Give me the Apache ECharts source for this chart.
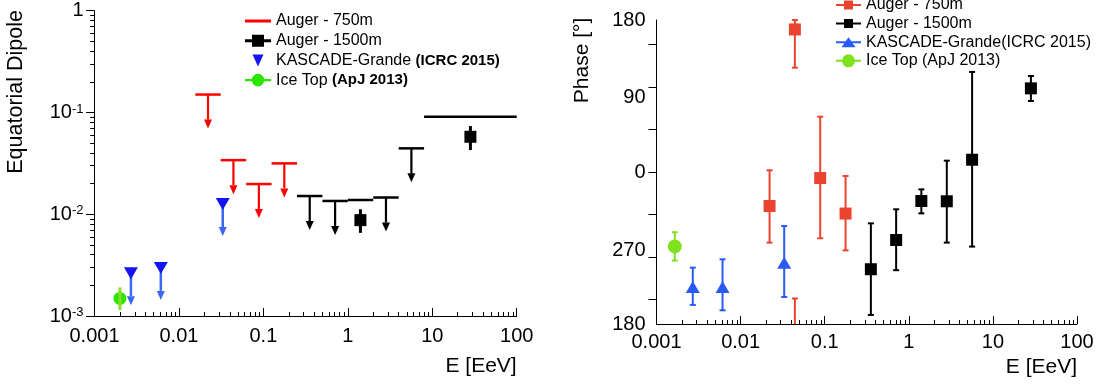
<!DOCTYPE html>
<html>
<head>
<meta charset="utf-8">
<script src="https://cdn.jsdelivr.net/npm/echarts@6/dist/echarts.min.js"></script>
<style>html,body{margin:0;padding:0;background:#fff}#chart{width:1102px;height:385px}</style>
</head>
<body>
<div id="chart"></div>
<script>
// ================= DATA =================
// Axis tick labels
const energyTickLabels = ['0.001', '0.01', '0.1', '1', '10', '100'];
const dipoleTickExponents = [-3, -2, -1, 0];
const phaseLabelValues = [-161, -90, 0, 90, 161];
const phaseLabelTexts = ['180', '270', '0', '90', '180'];
const phaseTickValues = [-135, -90, -45, 0, 45, 90, 135];
const minorMantissas = [2, 3, 4, 5, 6, 7, 8, 9];

// Auger 750 m (energy bins in EeV)
const e750 = [0.0221, 0.0442, 0.0884, 0.177];
const bin750Lo = [0.015625, 0.03125, 0.0625, 0.125];
const bin750Hi = [0.03125, 0.0625, 0.125, 0.25];
const dipUL750 = [0.150, 0.034, 0.0198, 0.0316];
const phase750 = [-36, 151, -6.4, -44];
const phase750Lo = [-74.8, 110.5, -70.2, -83];
const phase750Hi = [1.8, 226, 58.6, -4.2];

// Auger 1500 m
const e1500 = [0.354, 0.707, 1.41, 2.83, 5.66, 28.3];
const bin1500Lo = [0.25, 0.5, 1, 2, 4, 8];
const bin1500Hi = [0.5, 1, 2, 4, 8, 100];
const dipUL1500 = [0.0151, 0.0135, 0.0138, 0.0146, 0.0444, 0.0908];
const dipAmp1500 = [null, null, 0.00875, null, null, 0.0577];
const dipAmp1500Lo = [null, null, 0.00656, null, null, 0.0427];
const dipAmp1500Hi = [null, null, 0.0112, null, null, 0.0735];
const phase1500 = [-103, -72, -30.7, -31, 13, 88.6];
const phase1500Lo = [-151.4, -104, -43.8, -74.8, -79, 75.2];
const phase1500Hi = [-54.4, -39.5, -18.4, 12, 106, 101.7];

// KASCADE-Grande
const eKG = [0.0027, 0.0061, 0.033];
const dipULKG = [0.00263, 0.00297, 0.0126];
const phaseKG = [-121.8, -121.8, -96];
const phaseKGLo = [-140.8, -146.5, -132.4];
const phaseKGHi = [-101.3, -92.5, -57.2];

// IceTop
const eITDip = [0.0020];
const dipIT = [0.00149];
const dipITLo = [0.00114];
const dipITHi = [0.00191];
const eITPhase = [0.00165];
const phaseIT = [-78.8];
const phaseITLo = [-93.8];
const phaseITHi = [-63.8];

// Legend texts
const legendTexts = {
  L750: 'Auger - 750m',
  L1500: 'Auger - 1500m',
  LKG: 'KASCADE-Grande {b|(ICRC 2015)}',
  LIT: 'Ice Top {b|(ApJ 2013)}',
  R750: 'Auger - 750m',
  R1500: 'Auger - 1500m',
  RKG: 'KASCADE-Grande(ICRC 2015)',
  RIT: 'Ice Top (ApJ 2013)'
};

// ================= STYLE =================
const FONT = "'Liberation Sans', Arial, Helvetica, sans-serif";
const PHASE_MIN = -161, PHASE_MAX = 161;
const C = {
  redL: '#ff0000', black: '#000000', blueTriL: '#1414f0', blueArrL: '#3b68f2',
  greenCircL: '#2ce600', greenLineL: '#8bdc2c',
  redR: '#ea4430', blueR: '#2a5af5', greenR: '#80e11f'
};

const minorLogX = [];
for (let n = -3; n <= 1; n++) minorMantissas.forEach(m => minorLogX.push(Math.log10(m * Math.pow(10, n))));
const minorLogY = [];
for (let n = -3; n <= -1; n++) minorMantissas.forEach(m => minorLogY.push(Math.log10(m * Math.pow(10, n))));

// ================= RENDERERS =================
const ARROW_LEN = 34, HEAD_H = 9, HEAD_W = 4;
function arrowDown(p, len, color, lw) {
  return [
    {type: 'line', shape: {x1: p[0], y1: p[1], x2: p[0], y2: p[1] + len - HEAD_H}, style: {stroke: color, lineWidth: lw}},
    {type: 'polygon', shape: {points: [[p[0] - HEAD_W, p[1] + len - HEAD_H], [p[0] + HEAD_W, p[1] + len - HEAD_H], [p[0], p[1] + len]]}, style: {fill: color}}
  ];
}
function ulRender(color) {
  return function (params, api) {
    const e = api.value(0), lo = api.value(1), hi = api.value(2), ul = api.value(3), arrow = api.value(4);
    const pl = api.coord([lo, ul]), pr = api.coord([hi, ul]), pc = api.coord([e, ul]);
    let kids = [{type: 'line', shape: {x1: pl[0], y1: pl[1], x2: pr[0], y2: pr[1]}, style: {stroke: color, lineWidth: 2.5}}];
    if (arrow) kids = kids.concat(arrowDown(pc, ARROW_LEN, color, 2.2));
    return {type: 'group', children: kids};
  };
}
function kgRender(params, api) {
  const p = api.coord([api.value(0), api.value(1)]);
  const kids = arrowDown(p, 32, C.blueArrL, 2.5);
  kids.push({type: 'polygon', shape: {points: [[p[0] - 7, p[1] - 6], [p[0] + 7, p[1] - 6], [p[0], p[1] + 6]]}, style: {fill: C.blueTriL}});
  return {type: 'group', children: kids};
}
function ampRender(params, api) {
  const e = api.value(0);
  const p = api.coord([e, api.value(1)]), pl = api.coord([e, api.value(2)]), ph = api.coord([e, api.value(3)]);
  return {type: 'group', children: [
    {type: 'line', shape: {x1: p[0], y1: pl[1], x2: p[0], y2: ph[1]}, style: {stroke: C.black, lineWidth: 3}},
    {type: 'rect', shape: {x: p[0] - 6, y: p[1] - 6, width: 12, height: 12}, style: {fill: C.black}}
  ]};
}
function iceTopDipRender(params, api) {
  const e = api.value(0);
  const p = api.coord([e, api.value(1)]), pl = api.coord([e, api.value(2)]), ph = api.coord([e, api.value(3)]);
  return {type: 'group', children: [
    {type: 'circle', shape: {cx: p[0], cy: p[1], r: 6.5}, style: {fill: C.greenCircL}},
    {type: 'line', shape: {x1: p[0], y1: pl[1], x2: p[0], y2: ph[1]}, style: {stroke: C.greenLineL, lineWidth: 3}}
  ]};
}
function phaseErrRender(color) {
  return function (params, api) {
    const x = api.value(0), lo = api.value(1), hi = api.value(2);
    const kids = [];
    const st = {stroke: color, lineWidth: 2};
    const vline = (a, b) => { const p1 = api.coord([x, a]), p2 = api.coord([x, b]); kids.push({type: 'line', shape: {x1: p1[0], y1: p1[1], x2: p2[0], y2: p2[1]}, style: st}); };
    const cap = v => { const p = api.coord([x, v]); kids.push({type: 'line', shape: {x1: p[0] - 3, y1: p[1], x2: p[0] + 3, y2: p[1]}, style: st}); };
    if (hi > PHASE_MAX) {
      vline(lo, PHASE_MAX); cap(lo); cap(PHASE_MAX);
      vline(PHASE_MIN, hi - 360); cap(hi - 360);
    } else {
      vline(lo, hi); cap(lo); cap(hi);
    }
    return {type: 'group', children: kids};
  };
}

// ================= LEGEND ICONS =================
function box(w, h) { return 'M0,0 L0,0 Z M' + w + ',' + h + ' L' + w + ',' + h + ' Z '; }
const circ = (cx, cy, r) => 'M' + (cx - r) + ',' + cy + ' A' + r + ',' + r + ' 0 1 1 ' + (cx + r) + ',' + cy + ' A' + r + ',' + r + ' 0 1 1 ' + (cx - r) + ',' + cy + ' Z ';
const iconL750 = 'path://' + box(26, 14) + 'M0,5.5 L26,5.5 L26,8.5 L0,8.5 Z';
const iconL1500 = 'path://' + box(26, 14) + 'M0,5.5 L26,5.5 L26,8.5 L0,8.5 Z M7,1 L19,1 L19,13 L7,13 Z';
const iconLKG = 'path://' + box(26, 14) + 'M7.5,1 L18.5,1 L13,13 Z';
const iconLIT = 'path://' + box(26, 14) + 'M0,5.8 L26,5.8 L26,8.2 L0,8.2 Z ' + circ(13, 7, 6.3);
const iconRSq = 'path://' + box(25, 14) + 'M0,6 L25,6 L25,8 L0,8 Z M8,2.5 L17,2.5 L17,11.5 L8,11.5 Z';
const iconRKG = 'path://' + box(25, 14) + 'M0,6 L25,6 L25,8 L0,8 Z M5.5,12 L12.5,2 L19.5,12 Z';
const iconRIT = 'path://' + box(25, 14) + 'M0,6 L25,6 L25,8 L0,8 Z ' + circ(12.5, 7, 6.5);

// ================= AXES =================
const axisLineStyle = {show: true, onZero: false, lineStyle: {color: '#000', width: 1}};
const hiddenLine = {show: false, onZero: false};
const labelBase = {color: '#000', fontFamily: FONT, fontSize: 20};

const option = {
  animation: false,
  backgroundColor: '#fff',
  textStyle: {fontFamily: FONT},
  grid: [
    {left: 94.5, right: 585.3, top: 10.7, bottom: 69, outerBoundsMode: 'none', containLabel: false},
    {left: 656.5, right: 25, top: 20, bottom: 61, outerBoundsMode: 'none', containLabel: false}
  ],
  legend: [
    {
      orient: 'vertical', left: 245, top: 13, padding: 0, itemGap: 3.7, itemWidth: 26, itemHeight: 14,
      selectedMode: false, symbolKeepAspect: true,
      formatter: n => legendTexts[n],
      textStyle: {fontSize: 16, color: '#000', fontFamily: FONT,
        rich: {b: {fontSize: 15, fontWeight: 'bold', color: '#000', fontFamily: FONT}}},
      data: [
        {name: 'L750', icon: iconL750, itemStyle: {color: C.redL, borderWidth: 0}},
        {name: 'L1500', icon: iconL1500, itemStyle: {color: C.black, borderWidth: 0}},
        {name: 'LKG', icon: iconLKG, itemStyle: {color: C.blueTriL, borderWidth: 0}},
        {name: 'LIT', icon: iconLIT, itemStyle: {color: C.greenCircL, borderWidth: 0}}
      ]
    },
    {
      orient: 'vertical', left: 836, top: -3, padding: 0, itemGap: 2.6, itemWidth: 25, itemHeight: 14,
      selectedMode: false, symbolKeepAspect: true,
      formatter: n => legendTexts[n],
      textStyle: {fontSize: 16, color: '#000', fontFamily: FONT},
      data: [
        {name: 'R750', icon: iconRSq, itemStyle: {color: C.redR, borderWidth: 0}},
        {name: 'R1500', icon: iconRSq, itemStyle: {color: C.black, borderWidth: 0}},
        {name: 'RKG', icon: iconRKG, itemStyle: {color: C.blueR, borderWidth: 0}},
        {name: 'RIT', icon: iconRIT, itemStyle: {color: C.greenR, borderWidth: 0}}
      ]
    }
  ],
  xAxis: [
    {
      type: 'log', logBase: 10, gridIndex: 0, min: 0.001, max: 100, position: 'bottom',
      axisLine: axisLineStyle, splitLine: {show: false},
      axisTick: {show: true, inside: true, length: 8, lineStyle: {color: '#000'}},
      minorTick: {show: false},
      axisLabel: Object.assign({margin: 10, formatter: v => energyTickLabels[Math.round(Math.log10(v)) + 3]}, labelBase),
      name: 'E [EeV]', nameLocation: 'end', nameGap: 0, nameMoveOverlap: false,
      nameTextStyle: {fontSize: 21, color: '#000', fontFamily: FONT, align: 'right', verticalAlign: 'top', padding: [40, 0, 0, 0]}
    },
    {
      type: 'log', logBase: 10, gridIndex: 1, min: 0.001, max: 100, position: 'bottom',
      axisLine: axisLineStyle, splitLine: {show: false},
      axisTick: {show: true, inside: true, length: 8, lineStyle: {color: '#000'}},
      minorTick: {show: false},
      axisLabel: Object.assign({margin: 8, formatter: v => energyTickLabels[Math.round(Math.log10(v)) + 3]}, labelBase),
      name: 'E [EeV]', nameLocation: 'end', nameGap: 0, nameMoveOverlap: false,
      nameTextStyle: {fontSize: 21, color: '#000', fontFamily: FONT, align: 'right', verticalAlign: 'top', padding: [33, 0, 0, 0]}
    },
    {
      type: 'value', gridIndex: 0, min: -3, max: 2, position: 'bottom',
      axisLine: hiddenLine, axisLabel: {show: false}, splitLine: {show: false},
      axisTick: {show: true, inside: true, length: 4, customValues: minorLogX, lineStyle: {color: '#000'}}
    },
    {
      type: 'value', gridIndex: 1, min: -3, max: 2, position: 'bottom',
      axisLine: hiddenLine, axisLabel: {show: false}, splitLine: {show: false},
      axisTick: {show: true, inside: true, length: 4, customValues: minorLogX, lineStyle: {color: '#000'}}
    }
  ],
  yAxis: [
    {
      type: 'log', logBase: 10, gridIndex: 0, min: 0.001, max: 1, position: 'left',
      axisLine: axisLineStyle, splitLine: {show: false},
      axisTick: {show: true, inside: false, length: 8.5, lineStyle: {color: '#000'}},
      minorTick: {show: false},
      axisLabel: {
        margin: 11, color: '#000', fontFamily: FONT, fontSize: 20,
        formatter: v => {
          const ex = dipoleTickExponents.find(x => x === Math.round(Math.log10(v)));
          return ex === 0 ? '{b|1}' : '{b|10}{s|' + ex + '}';
        },
        rich: {
          b: {fontSize: 20, color: '#000', fontFamily: FONT},
          s: {fontSize: 13, color: '#000', fontFamily: FONT, verticalAlign: 'top'}
        }
      },
      name: 'Equatorial Dipole', nameLocation: 'middle', nameRotate: 90, nameGap: 67, nameMoveOverlap: false,
      nameTextStyle: {fontSize: 21.5, color: '#000', fontFamily: FONT, padding: [0, 0, 0, 143]}
    },
    {
      type: 'value', gridIndex: 1, min: PHASE_MIN, max: PHASE_MAX, position: 'left',
      axisLine: axisLineStyle, splitLine: {show: false},
      axisTick: {show: true, inside: false, length: 8, customValues: phaseTickValues, lineStyle: {color: '#000'}},
      axisLabel: {
        margin: 11, color: '#000', fontFamily: FONT, fontSize: 20,
        customValues: phaseLabelValues,
        formatter: v => {
          const i = phaseLabelValues.indexOf(Math.round(v));
          const t = phaseLabelTexts[i];
          if (Math.round(v) === 90) return '{dn|' + t + '}';
          if (Math.round(v) === -90) return '{up|' + t + '}';
          return '{n|' + t + '}';
        },
        rich: {
          n: {fontSize: 20, color: '#000', fontFamily: FONT},
          dn: {fontSize: 20, color: '#000', fontFamily: FONT, padding: [21, 0, 0, 0]},
          up: {fontSize: 20, color: '#000', fontFamily: FONT, padding: [0, 0, 12, 0]}
        }
      },
      name: 'Phase [°]', nameLocation: 'middle', nameRotate: 90, nameGap: 64, nameMoveOverlap: false,
      nameTextStyle: {fontSize: 21, color: '#000', fontFamily: FONT, padding: [0, 0, 0, 223]}
    },
    {
      type: 'value', gridIndex: 0, min: -3, max: 0, position: 'left',
      axisLine: hiddenLine, axisLabel: {show: false}, splitLine: {show: false},
      axisTick: {show: true, inside: false, length: 4.3, customValues: minorLogY, lineStyle: {color: '#000'}}
    }
  ],
  series: [
    // ---- left panel: equatorial dipole ----
    {
      type: 'custom', name: 'L750', xAxisIndex: 0, yAxisIndex: 0, encode: {x: 0, y: 3}, z: 3,
      itemStyle: {color: C.redL}, renderItem: ulRender(C.redL),
      data: e750.map((e, i) => [e, bin750Lo[i], bin750Hi[i], dipUL750[i], 1])
    },
    {
      type: 'custom', name: 'L1500', xAxisIndex: 0, yAxisIndex: 0, encode: {x: 0, y: 3}, z: 3,
      itemStyle: {color: C.black}, renderItem: ulRender(C.black),
      data: e1500.map((e, i) => [e, bin1500Lo[i], bin1500Hi[i], dipUL1500[i], dipAmp1500[i] === null ? 1 : 0])
    },
    {
      type: 'custom', name: 'L1500', xAxisIndex: 0, yAxisIndex: 0, encode: {x: 0, y: 1}, z: 4,
      itemStyle: {color: C.black}, renderItem: ampRender,
      data: e1500.map((e, i) => [e, dipAmp1500[i], dipAmp1500Lo[i], dipAmp1500Hi[i]]).filter(d => d[1] !== null)
    },
    {
      type: 'custom', name: 'LKG', xAxisIndex: 0, yAxisIndex: 0, encode: {x: 0, y: 1}, z: 3,
      itemStyle: {color: C.blueTriL}, renderItem: kgRender,
      data: eKG.map((e, i) => [e, dipULKG[i]])
    },
    {
      type: 'custom', name: 'LIT', xAxisIndex: 0, yAxisIndex: 0, encode: {x: 0, y: 1}, z: 3,
      itemStyle: {color: C.greenCircL}, renderItem: iceTopDipRender,
      data: eITDip.map((e, i) => [e, dipIT[i], dipITLo[i], dipITHi[i]])
    },
    // ---- right panel: phase ----
    {
      type: 'custom', name: 'R750', xAxisIndex: 1, yAxisIndex: 1, encode: {x: 0, y: 3}, z: 2,
      itemStyle: {color: C.redR}, renderItem: phaseErrRender(C.redR),
      data: e750.map((e, i) => [e, phase750Lo[i], phase750Hi[i], phase750[i]])
    },
    {
      type: 'scatter', name: 'R750', xAxisIndex: 1, yAxisIndex: 1, z: 5, symbol: 'rect', symbolSize: 12,
      itemStyle: {color: C.redR, opacity: 1}, data: e750.map((e, i) => [e, phase750[i]])
    },
    {
      type: 'custom', name: 'R1500', xAxisIndex: 1, yAxisIndex: 1, encode: {x: 0, y: 3}, z: 2,
      itemStyle: {color: C.black}, renderItem: phaseErrRender(C.black),
      data: e1500.map((e, i) => [e, phase1500Lo[i], phase1500Hi[i], phase1500[i]])
    },
    {
      type: 'scatter', name: 'R1500', xAxisIndex: 1, yAxisIndex: 1, z: 5, symbol: 'rect', symbolSize: 12,
      itemStyle: {color: C.black, opacity: 1}, data: e1500.map((e, i) => [e, phase1500[i]])
    },
    {
      type: 'custom', name: 'RKG', xAxisIndex: 1, yAxisIndex: 1, encode: {x: 0, y: 3}, z: 2,
      itemStyle: {color: C.blueR}, renderItem: phaseErrRender(C.blueR),
      data: eKG.map((e, i) => [e, phaseKGLo[i], phaseKGHi[i], phaseKG[i]])
    },
    {
      type: 'scatter', name: 'RKG', xAxisIndex: 1, yAxisIndex: 1, z: 5, symbol: 'triangle', symbolSize: [14, 12],
      itemStyle: {color: C.blueR, opacity: 1}, data: eKG.map((e, i) => [e, phaseKG[i]])
    },
    {
      type: 'custom', name: 'RIT', xAxisIndex: 1, yAxisIndex: 1, encode: {x: 0, y: 3}, z: 2,
      itemStyle: {color: C.greenR}, renderItem: phaseErrRender(C.greenR),
      data: eITPhase.map((e, i) => [e, phaseITLo[i], phaseITHi[i], phaseIT[i]])
    },
    {
      type: 'scatter', name: 'RIT', xAxisIndex: 1, yAxisIndex: 1, z: 5, symbol: 'circle', symbolSize: 14,
      itemStyle: {color: C.greenR, opacity: 1}, data: eITPhase.map((e, i) => [e, phaseIT[i]])
    }
  ]
};

const chart = echarts.init(document.getElementById('chart'), null, {renderer: 'canvas'});
chart.setOption(option);
</script>
</body>
</html>
